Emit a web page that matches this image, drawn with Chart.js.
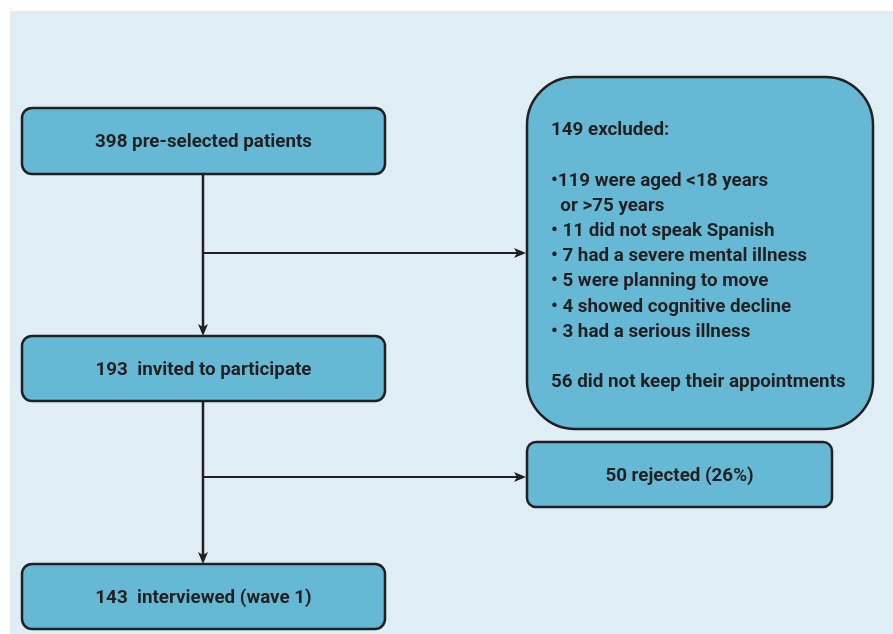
<!DOCTYPE html>
<html>
<head>
<meta charset="utf-8">
<script src="https://cdn.jsdelivr.net/npm/chart.js@4.4.0/dist/chart.umd.min.js"></script>
<style>
  html, body { margin: 0; padding: 0; background: #ffffff; }
  #wrap { width: 893px; height: 634px; }
</style>
</head>
<body>
<div id="wrap"><canvas id="flow"></canvas></div>
<script>
// flow data
const stageLabels = ['pre-selected patients', ' invited to participate', ' interviewed (wave 1)'];
const stageCounts = [398, 193, 143];
const excludedTotal = 149;
const exclusionCounts = [119, 11, 7, 5, 4, 3];
const exclusionReasons = ['were aged <18 years', 'did not speak Spanish', 'had a severe mental illness',
  'were planning to move', 'showed cognitive decline', 'had a serious illness'];
const noShowCount = 56;
const rejectedCount = 50;
const rejectedPct = 26;

// layout (axis units, same as pixels of the 893x634 canvas)
var stageBoxes = [
  { x0: 22, x1: 385, y0: 108, y1: 174 },
  { x0: 22, x1: 385, y0: 336, y1: 401 },
  { x0: 22, x1: 385, y0: 564, y1: 629 }
];
var excludedBox = { x0: 527, x1: 873, y0: 77, y1: 429 };
var rejectedBox = { x0: 527, x1: 832, y0: 442, y1: 507 };
var spineX = 203;
var branchY = [253, 477];

var INK = '#231f20';
var FILL = '#66b9d5';
var PANEL = '#dfedf4';
var FONT = 'bold 18.8px Roboto';
var TEXT_DY = 1.5;

function excludedLines() {
  var lines = [excludedTotal + ' excluded:', ''];
  exclusionCounts.forEach(function(c, i) {
    if (i === 0) {
      lines.push('\u2022' + c + ' ' + exclusionReasons[i]);
      lines.push('  or >75 years');
    } else {
      lines.push('\u2022 ' + c + ' ' + exclusionReasons[i]);
    }
  });
  lines.push('');
  lines.push(noShowCount + ' did not keep their appointments');
  return lines;
}

const flowPlugin = {
  id: 'flow',
  beforeDraw: function(chart) {
    var ctx = chart.ctx;
    var sx = chart.scales.x, sy = chart.scales.y;
    var X = function(v) { return sx.getPixelForValue(v); };
    var Y = function(v) { return sy.getPixelForValue(v); };

    ctx.save();
    ctx.fillStyle = PANEL;
    ctx.fillRect(X(10), Y(11), X(893) - X(10), Y(634) - Y(11));

    ctx.strokeStyle = INK;
    ctx.fillStyle = INK;
    ctx.lineWidth = 2.5;

    function arrowDown(x, yTip) {
      ctx.beginPath();
      ctx.moveTo(X(x), Y(yTip));
      ctx.lineTo(X(x) - 5, Y(yTip) - 12);
      ctx.lineTo(X(x), Y(yTip) - 9);
      ctx.lineTo(X(x) + 5, Y(yTip) - 12);
      ctx.closePath();
      ctx.fill();
    }
    function arrowRight(xTip, y) {
      ctx.beginPath();
      ctx.moveTo(X(xTip), Y(y));
      ctx.lineTo(X(xTip) - 12, Y(y) - 5);
      ctx.lineTo(X(xTip) - 9, Y(y));
      ctx.lineTo(X(xTip) - 12, Y(y) + 5);
      ctx.closePath();
      ctx.fill();
    }

    // spine
    for (var i = 0; i < stageBoxes.length - 1; i++) {
      ctx.beginPath();
      ctx.moveTo(X(spineX), Y(stageBoxes[i].y1));
      ctx.lineTo(X(spineX), Y(stageBoxes[i + 1].y0) - 4);
      ctx.stroke();
      arrowDown(spineX, stageBoxes[i + 1].y0);
    }
    // branches
    var targets = [excludedBox, rejectedBox];
    branchY.forEach(function(by, i) {
      ctx.lineWidth = 2;
      ctx.beginPath();
      ctx.moveTo(X(spineX), Y(by));
      ctx.lineTo(X(targets[i].x0) - 5, Y(by));
      ctx.stroke();
      arrowRight(targets[i].x0 - 1, by);
    });

    function box(b, r) {
      ctx.beginPath();
      ctx.roundRect(X(b.x0), Y(b.y0), X(b.x1) - X(b.x0), Y(b.y1) - Y(b.y0), r);
      ctx.fillStyle = FILL;
      ctx.fill();
      ctx.lineWidth = 2.5;
      ctx.strokeStyle = INK;
      ctx.stroke();
    }

    ctx.font = FONT;
    ctx.textBaseline = 'middle';
    stageBoxes.forEach(function(b, i) {
      box(b, 10);
      ctx.fillStyle = INK;
      ctx.textAlign = 'center';
      ctx.fillText(stageCounts[i] + ' ' + stageLabels[i], X((b.x0 + b.x1) / 2), Y((b.y0 + b.y1) / 2) + TEXT_DY);
    });

    box(rejectedBox, 9);
    ctx.fillStyle = INK;
    ctx.textAlign = 'center';
    ctx.fillText(rejectedCount + ' rejected (' + rejectedPct + '%)',
      X((rejectedBox.x0 + rejectedBox.x1) / 2), Y((rejectedBox.y0 + rejectedBox.y1) / 2) + TEXT_DY);

    box(excludedBox, 48);
    ctx.fillStyle = INK;
    ctx.textAlign = 'left';
    excludedLines().forEach(function(t, i) {
      ctx.fillText(t, X(551), Y(129 + i * 25.2) + TEXT_DY);
    });
    ctx.restore();
  }
};

new Chart(document.getElementById('flow'), {
  type: 'scatter',
  data: {
    datasets: [{
      data: stageBoxes.map(function(b, i) { return { x: spineX, y: (b.y0 + b.y1) / 2, n: stageCounts[i] }; }),
      pointRadius: 0
    }]
  },
  options: {
    responsive: true,
    maintainAspectRatio: false,
    animation: false,
    layout: { padding: 0 },
    plugins: { legend: { display: false }, tooltip: { enabled: false } },
    scales: {
      x: { type: 'linear', min: 0, max: 893, display: false },
      y: { type: 'linear', min: 0, max: 634, reverse: true, display: false }
    }
  },
  plugins: [flowPlugin]
});
</script>
</body>
</html>
